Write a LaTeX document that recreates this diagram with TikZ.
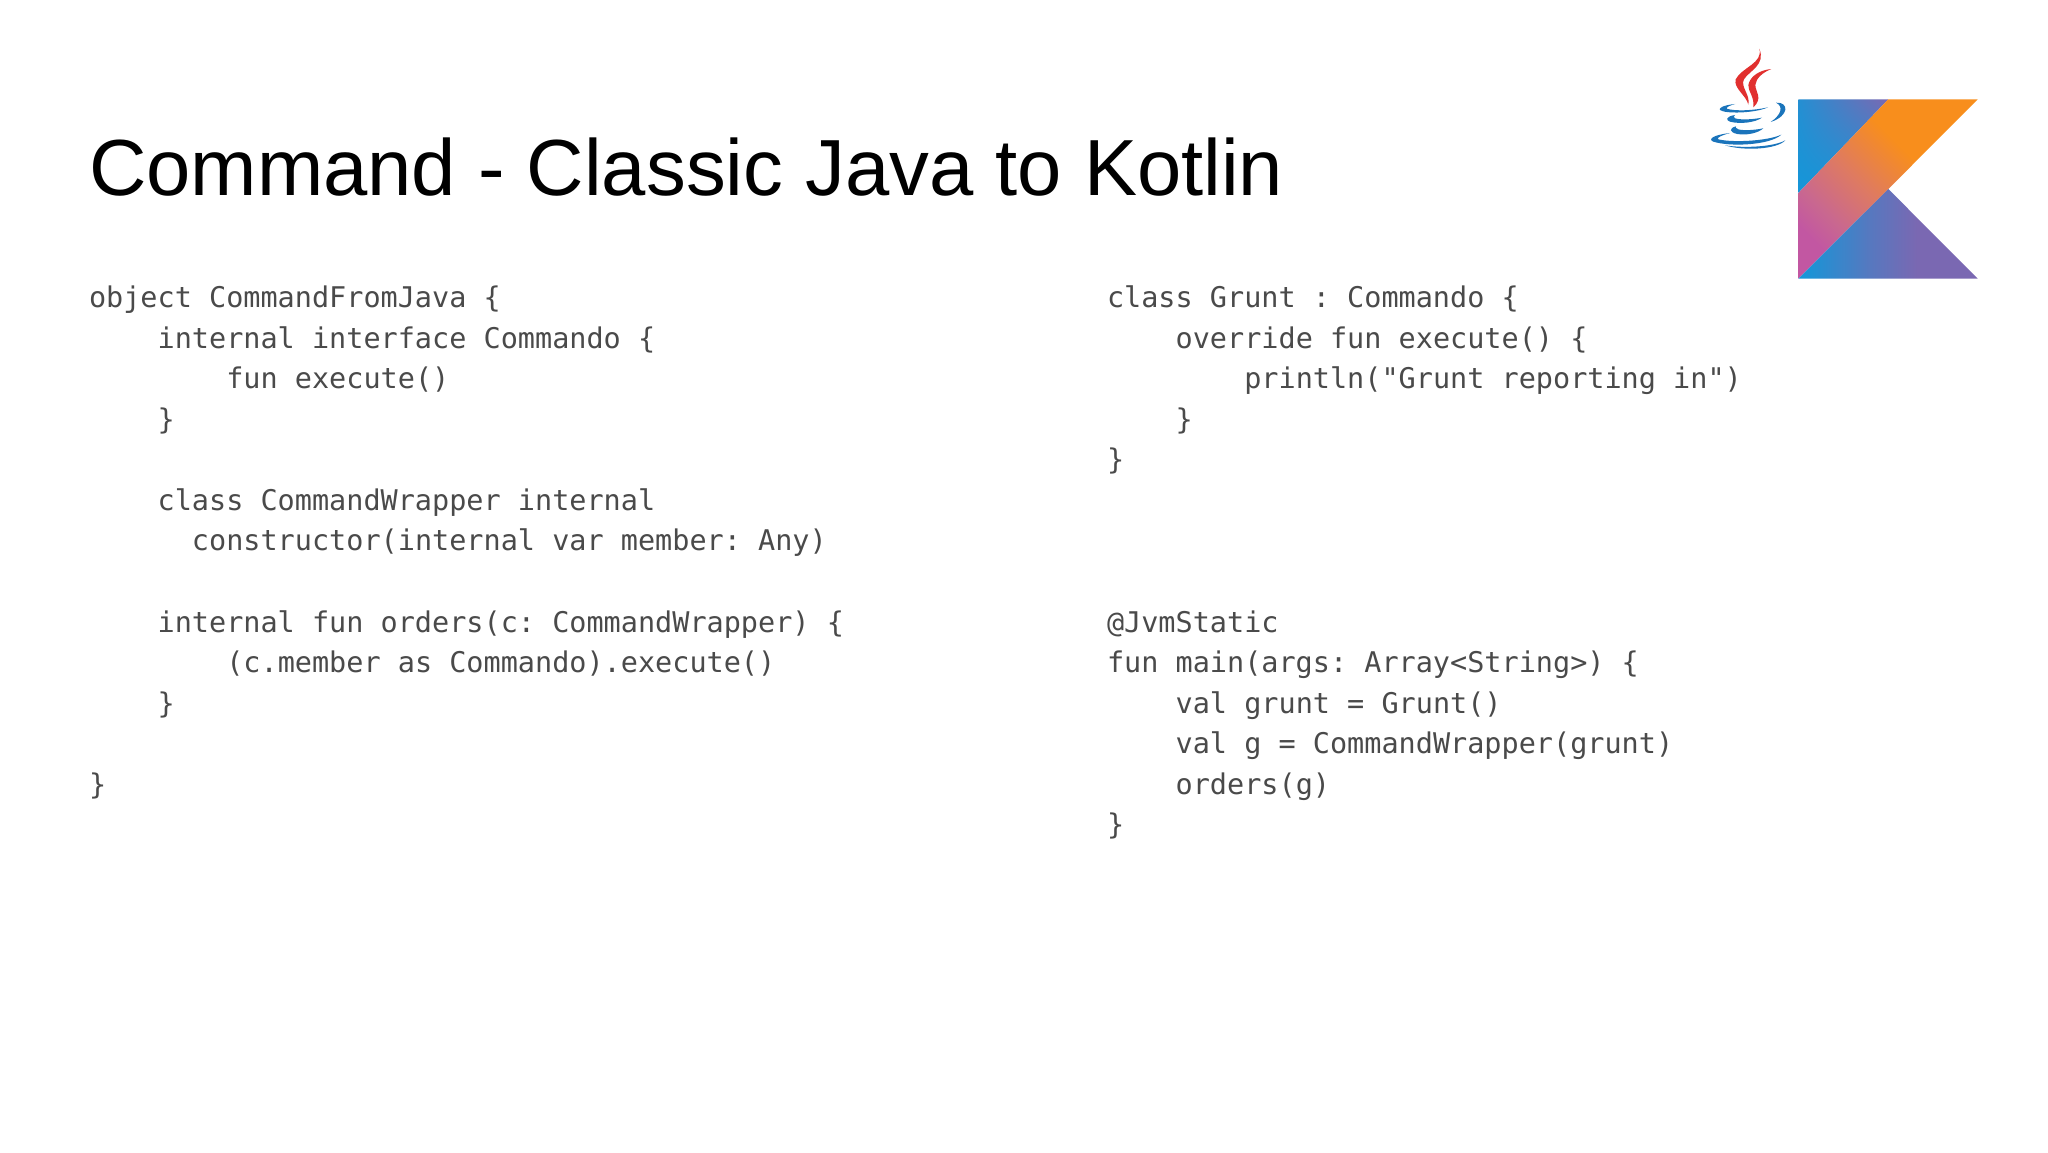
\documentclass[tikz,border=0pt]{standalone}
\usepackage{fontspec}
\usetikzlibrary{shadings}
\setmainfont{Liberation Sans}
\newfontfamily\codefont{DejaVu Sans Mono}
\definecolor{codegray}{HTML}{4A4A4A}
\definecolor{kblue}{HTML}{1596D8}
\definecolor{kpurple}{HTML}{7A68B2}
\definecolor{korange}{HTML}{F88E1C}
\definecolor{kmagenta}{HTML}{C257A2}
\definecolor{kpink}{HTML}{C9688F}
\definecolor{kmid}{HTML}{DE7A62}
\definecolor{jred}{HTML}{E1302F}
\definecolor{jblue}{HTML}{1A74BB}
\pgfdeclarehorizontalshading{kband}{100bp}{color(0bp)=(kmagenta); color(25bp)=(kmagenta); color(33bp)=(kpink); color(45.5bp)=(kmid); color(61bp)=(korange); color(100bp)=(korange)}
\pgfdeclarehorizontalshading{kbottom}{100bp}{color(0bp)=(kblue); color(26bp)=(kblue); color(45bp)=(kblue!35!kpurple); color(58bp)=(kpurple); color(100bp)=(kpurple)}
\tikzset{
  codeline/.style={anchor=base west,inner sep=0pt,outer sep=0pt,text=codegray,font=\codefont\fontsize{28.5}{40.5}\selectfont\frenchspacing},
  titletext/.style={anchor=base west,inner sep=0pt,outer sep=0pt,text=black,font=\fontsize{79.6}{90}\selectfont}
}
% column (characters), row, text, x origin
\newcommand{\cl}[5]{\node[codeline] (#1) at ({#5+17.16*#2},{307.6+40.55*#3}) {#4};}
\begin{document}
\begin{tikzpicture}[x=1pt,y=-1pt]
\useasboundingbox[fill=white] (0,0) rectangle (2048,1152);
\node[titletext] (title) at (89,195) {Command - Classic Java to Kotlin};
\cl{a0}{0}{0}{object CommandFromJava \{}{89}
\cl{a1}{4}{1}{internal interface Commando \{}{89}
\cl{a2}{8}{2}{fun execute()}{89}
\cl{a3}{4}{3}{\}}{89}
\cl{a5}{4}{5}{class CommandWrapper internal}{89}
\cl{a6}{6}{6}{constructor(internal var member: Any)}{89}
\cl{a8}{4}{8}{internal fun orders(c: CommandWrapper) \{}{89}
\cl{a9}{8}{9}{(c.member as Commando).execute()}{89}
\cl{a10}{4}{10}{\}}{89}
\cl{a12}{0}{12}{\}}{89}
\cl{b0}{0}{0}{class Grunt : Commando \{}{1107}
\cl{b1}{4}{1}{override fun execute() \{}{1107}
\cl{b2}{8}{2}{println("Grunt reporting in")}{1107}
\cl{b3}{4}{3}{\}}{1107}
\cl{b4}{0}{4}{\}}{1107}
\cl{b8}{0}{8}{@JvmStatic}{1107}
\cl{b9}{0}{9}{fun main(args: Array<String>) \{}{1107}
\cl{b10}{4}{10}{val grunt = Grunt()}{1107}
\cl{b11}{4}{11}{val g = CommandWrapper(grunt)}{1107}
\cl{b12}{4}{12}{orders(g)}{1107}
\cl{b13}{0}{13}{\}}{1107}
% Kotlin logo
\begin{scope}
\clip (1798.3,99.3) -- (1888.3,99.3) -- (1798.3,193) -- cycle;
\shade[lower left=kblue,upper right=kpurple,lower right=kblue,upper left=kblue!85!kpurple]
  (1798.3,99.3) rectangle (1888.3,193);
\end{scope}
\begin{scope}
\clip (1888.3,99.3) -- (1977.7,99.3) -- (1888.3,189) -- (1798.3,278.7) -- (1798.3,193) -- cycle;
\shade[shading=kband,shading angle=45]
  (1798.3,99.3) rectangle (1977.7,278.7);
\end{scope}
\begin{scope}
\clip (1798.3,278.7) -- (1888.3,189) -- (1977.7,278.7) -- cycle;
\shade[shading=kbottom]
  (1798.3,189) rectangle (1977.7,278.7);
\end{scope}
% Java logo
\begin{scope}[shift={(1680,30)},x=0.3333pt,y=-0.3333pt]
\fill[jred] (238,56) .. controls (250,100) and (185,112) .. (167,148)
  .. controls (160,175) and (198,195) .. (205,224)
  .. controls (212,195) and (180,170) .. (192,148)
  .. controls (208,122) and (258,105) .. (238,56) -- cycle;
\fill[jred] (274,117) .. controls (240,120) and (210,138) .. (205,165)
  .. controls (204,185) and (224,200) .. (220,232)
  .. controls (250,205) and (226,185) .. (226,165)
  .. controls (228,145) and (247,128) .. (274,117) -- cycle;
\fill[jblue] (165,222) .. controls (125,226) and (115,236) .. (120,240)
  .. controls (135,252) and (225,250) .. (264,232)
  .. controls (220,242) and (165,244) .. (140,236)
  .. controls (138,232) and (150,226) .. (165,222) -- cycle;
\fill[jblue] (288,218) .. controls (328,216) and (328,258) .. (272,276)
  .. controls (303,255) and (312,230) .. (288,218) -- cycle;
\fill[jblue] (165,255) .. controls (138,259) and (136,271) .. (150,275)
  .. controls (180,283) and (225,278) .. (246,263)
  .. controls (215,269) and (182,270) .. (165,265)
  .. controls (160,262) and (160,258) .. (165,255) -- cycle;
\fill[jblue] (168,289) .. controls (146,295) and (148,307) .. (172,312)
  .. controls (200,317) and (235,309) .. (250,295)
  .. controls (220,301) and (190,302) .. (175,298)
  .. controls (168,295) and (165,292) .. (168,289) -- cycle;
\fill[jblue] (150,309) .. controls (98,315) and (83,328) .. (100,335)
  .. controls (150,351) and (270,346) .. (304,314)
  .. controls (260,334) and (155,338) .. (115,328)
  .. controls (107,324) and (125,316) .. (150,309) -- cycle;
\fill[jblue] (135,346) .. controls (190,355) and (280,351) .. (316,331)
  .. controls (290,359) and (190,363) .. (135,346) -- cycle;
\end{scope}
\end{tikzpicture}
\end{document}
